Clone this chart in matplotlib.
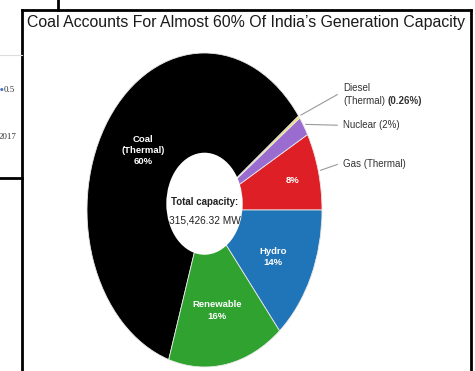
import numpy as np
import matplotlib
matplotlib.use("Agg")
import matplotlib.pyplot as plt
from matplotlib.patches import Circle
from matplotlib.lines import Line2D

# capacity shares, counter-clockwise from 3 o'clock
sources = ["Gas (Thermal)", "Nuclear", "Diesel (Thermal)", "Coal (Thermal)", "Renewable", "Hydro"]
shares = [8, 2, 0.26, 60, 16, 14]
colors = ["#df1f26", "#9b6ccf", "#f2e24a", "#000000", "#2fa22f", "#2074b8"]
inner_labels = ["8%", "", "", "Coal\n(Thermal)\n60%", "Renewable\n16%", "Hydro\n14%"]
total_mw = "315,426.32 MW"
title = "Coal Accounts For Almost 60% Of India\u2019s Generation Capacity"

FONT = "Liberation Sans"

fig = plt.figure(figsize=(4.75, 3.71), dpi=100)
W, H = 475, 371


def fx(px):
    return px / W


def fy(py):
    return 1 - py / H


# frame around the chart panel and bits of the neighbouring panel
for xs, ys, c in [([22, 22], [10, 371], "black"), ([22, 471], [10, 10], "black"),
                  ([471, 471], [10, 371], "black"), ([58, 58], [0, 10], "black"),
                  ([0, 22], [178, 178], "black"), ([0, 22], [55, 55], "#dddddd")]:
    fig.add_artist(Line2D([fx(x) for x in xs], [fy(y) for y in ys], color=c,
                          lw=2 if c == "black" else 0.8))
fig.text(fx(4), fy(90), "0.5", fontsize=6.5, family="Liberation Serif", color="#333333", va="center")
fig.text(fx(0), fy(90), "\u25cf", fontsize=3, color="#4472c4", va="center")
fig.text(fx(-1), fy(137), "2017", fontsize=6.5, family="Liberation Serif", color="#333333", va="center")

fig.text(fx(246), fy(22), title, family=FONT, fontsize=11.4, color="#1a1a1a",
         ha="center", va="center")

# pie stretched vertically: radius 1 spans 117.5 px across and 157 px high
ax = fig.add_axes([fx(87), fy(367), 235 / W, 314 / H])
wedges, _ = ax.pie(shares, colors=colors, startangle=0, counterclock=True,
                   wedgeprops=dict(edgecolor="#e8e8e8", linewidth=0.6))
ax.set_aspect("auto")
ax.set_xlim(-1, 1)
ax.set_ylim(-1, 1)
ax.axis("off")

ax.add_patch(Circle((0.0, 0.04), 0.325, facecolor="white", edgecolor="none", zorder=5))
ax.text(0.0, 0.05, "Total capacity:", family=FONT, fontweight="bold", fontsize=7,
        color="#222222", ha="center", va="center", zorder=6)
ax.text(0.0, -0.07, total_mw, family=FONT, fontsize=7.3, color="#222222",
        ha="center", va="center", zorder=6)

inner_pos = [(0.75, 0.19), None, None, (-0.52, 0.38), (0.11, -0.64), (0.58, -0.30)]
for lab, pos in zip(inner_labels, inner_pos):
    if pos:
        ax.text(pos[0], pos[1], lab, family=FONT, fontweight="bold", fontsize=6.8,
                color="white", ha="center", va="center", linespacing=1.3)

# callouts for the thin slices and gas
callouts = {1: ("Nuclear (2%)", 0.54), 2: ("Diesel\n(Thermal)", 0.735), 0: ("Gas (Thermal)", 0.29)}
texts = {}
for i, (txt, ly) in callouts.items():
    w = wedges[i]
    theta = np.deg2rad((w.theta1 + w.theta2) / 2)
    x0, y0 = 1.02 * np.cos(theta), 1.02 * np.sin(theta)
    ax.plot([x0, 1.13], [y0, ly], color="#9a9a9a", lw=0.8, clip_on=False)
    texts[i] = ax.text(1.18, ly, txt, family=FONT, fontsize=7, color="#333333",
                       ha="left", va="center", clip_on=False, linespacing=1.4)

# bold share placed right after "(Thermal)"
fig.canvas.draw()
bb = texts[2].get_window_extent().transformed(ax.transData.inverted())
ax.text(bb.x1 + 0.02, bb.y0, "(0.26%)", family=FONT, fontsize=7, fontweight="bold",
        color="#333333", ha="left", va="bottom", clip_on=False)

fig.savefig("out.png", dpi=100)
